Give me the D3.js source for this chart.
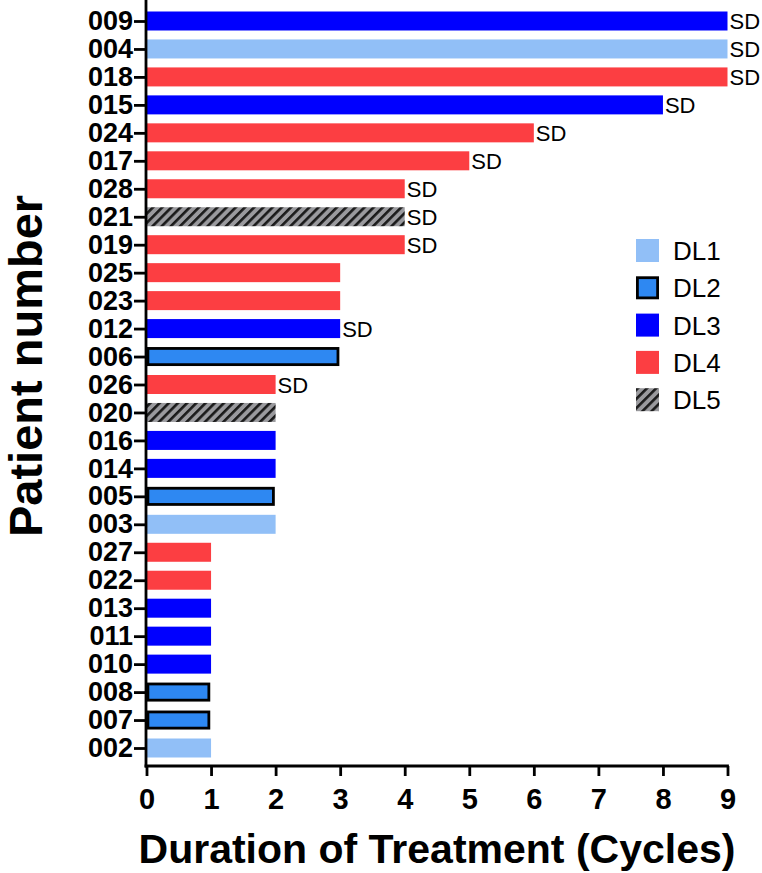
<!DOCTYPE html>
<html lang="en">
<head>
  <meta charset="UTF-8" />
  <script src="https://d3js.org/d3.v7.min.js"></script>
  <title>Duration of Treatment</title>
  <style>
    body { margin: 0; background: #fff; }
    svg { display: block; font-family: "Liberation Sans", Arial, sans-serif; }
  </style>
</head>
<body>
  <div id="chart"></div>
  <script>
    // patients, top to bottom
    const patients = ["009","004","018","015","024","017","028","021","019","025","023","012","006",
                      "026","020","016","014","005","003","027","022","013","011","010","008","007","002"];
    const cycles   = [9,9,9,8,6,5,4,4,4,3,3,3,3,2,2,2,2,2,2,1,1,1,1,1,1,1,1];
    const doseLvl  = ["DL3","DL1","DL4","DL3","DL4","DL4","DL4","DL5","DL4","DL4","DL4","DL3","DL2",
                      "DL4","DL5","DL3","DL3","DL2","DL1","DL4","DL4","DL3","DL3","DL3","DL2","DL2","DL1"];
    const response = ["SD","SD","SD","SD","SD","SD","SD","SD","SD","","","SD","",
                      "SD","","","","","","","","","","","","",""];
    const levels = ["DL1","DL2","DL3","DL4","DL5"];
    const xTicks = [0,1,2,3,4,5,6,7,8,9];

    const colors = { DL1: "#91bff7", DL2: "#2e88f2", DL3: "#0000ff", DL4: "#fc3e42", DL5: "url(#hatch)" };

    const width = 762, height = 873;
    const svg = d3.select("#chart").append("svg")
      .attr("width", width)
      .attr("height", height);

    const pat = svg.append("defs").append("pattern")
      .attr("id", "hatch")
      .attr("patternUnits", "userSpaceOnUse")
      .attr("width", 6.5).attr("height", 6.5)
      .attr("patternTransform", "rotate(45)");
    pat.append("rect").attr("width", 6.5).attr("height", 6.5).attr("fill", "#9a9a9e");
    pat.append("rect").attr("width", 2.6).attr("height", 6.5).attr("fill", "#1a1a1a");

    const x = d3.scaleLinear().domain([0, 9]).range([146.5, 727.5]);
    const y = d3.scalePoint().domain(patients).range([21, 748]);
    const barH = 19;
    const axisY = 766;

    const rows = patients.map((p, i) => ({ p, v: cycles[i], dl: doseLvl[i], r: response[i] }));

    // bars
    svg.selectAll("rect.bar")
      .data(rows)
      .enter()
      .append("rect")
      .attr("class", "bar")
      .each(function (d) {
        const s = d3.select(this);
        if (d.dl === "DL2") {
          s.attr("x", x(0) + 1.4)
            .attr("y", y(d.p) - barH / 2 + 1.4)
            .attr("width", x(d.v) - x(0) - 3.6)
            .attr("height", barH - 2.8)
            .attr("fill", colors.DL2)
            .attr("stroke", "#000")
            .attr("stroke-width", 2.8);
        } else {
          s.attr("x", x(0))
            .attr("y", y(d.p) - barH / 2)
            .attr("width", x(d.v) - x(0))
            .attr("height", barH)
            .attr("fill", colors[d.dl]);
        }
      });

    // SD labels
    svg.selectAll("text.resp")
      .data(rows.filter(d => d.r))
      .enter()
      .append("text")
      .attr("class", "resp")
      .attr("x", d => x(d.v) + 2)
      .attr("y", d => y(d.p) + 8)
      .attr("font-size", "22px")
      .attr("fill", "#000")
      .text(d => d.r);

    // y axis
    const yAxis = svg.append("g")
      .attr("transform", `translate(${x(0) - 0.5},0)`)
      .call(d3.axisLeft(y).tickSize(12).tickPadding(1));
    yAxis.select(".domain").remove();
    yAxis.selectAll(".tick line").attr("stroke-width", 2.8);
    yAxis.selectAll(".tick text")
      .attr("font-size", "27px").attr("font-weight", "bold")
      .attr("font-family", "Liberation Sans, Arial, sans-serif").attr("fill", "#000");
    svg.append("line")
      .attr("x1", x(0) - 0.5).attr("x2", x(0) - 0.5)
      .attr("y1", 0).attr("y2", axisY + 1.4)
      .attr("stroke", "#000").attr("stroke-width", 2.8);

    // x axis
    const xAxis = svg.append("g")
      .attr("transform", `translate(0,${axisY})`)
      .call(d3.axisBottom(x).tickValues(xTicks).tickFormat(d3.format("d")).tickSize(10).tickPadding(12));
    xAxis.select(".domain").attr("stroke-width", 2.8).attr("d", `M${x(0) - 1.9},0H${x(9) + 1.4}`);
    xAxis.selectAll(".tick line").attr("stroke-width", 2.8);
    xAxis.selectAll(".tick text")
      .attr("font-size", "29px").attr("font-weight", "bold")
      .attr("font-family", "Liberation Sans, Arial, sans-serif").attr("fill", "#000");

    // axis titles
    svg.append("text")
      .attr("x", 437).attr("y", 863)
      .attr("text-anchor", "middle")
      .attr("font-size", "41px").attr("font-weight", "bold")
      .text("Duration of Treatment (Cycles)");

    svg.append("text")
      .attr("transform", "translate(42,366) rotate(-90)")
      .attr("text-anchor", "middle")
      .attr("font-size", "47px").attr("font-weight", "bold")
      .text("Patient number");

    // legend
    const leg = svg.append("g").attr("transform", "translate(636,239)");
    const legItem = leg.selectAll("g")
      .data(levels)
      .enter()
      .append("g")
      .attr("transform", (d, i) => `translate(0,${i * 37.3})`);
    legItem.append("rect")
      .attr("x", d => d === "DL2" ? 1.4 : 0)
      .attr("y", d => d === "DL2" ? 1.4 : 0)
      .attr("width", d => d === "DL2" ? 20.2 : 23)
      .attr("height", d => d === "DL2" ? 20.2 : 23)
      .attr("fill", d => colors[d])
      .attr("stroke", d => d === "DL2" ? "#000" : "none")
      .attr("stroke-width", 2.8);
    legItem.append("text")
      .attr("x", 37).attr("y", 21)
      .attr("font-size", "26px")
      .text(d => d);
  </script>
</body>
</html>
